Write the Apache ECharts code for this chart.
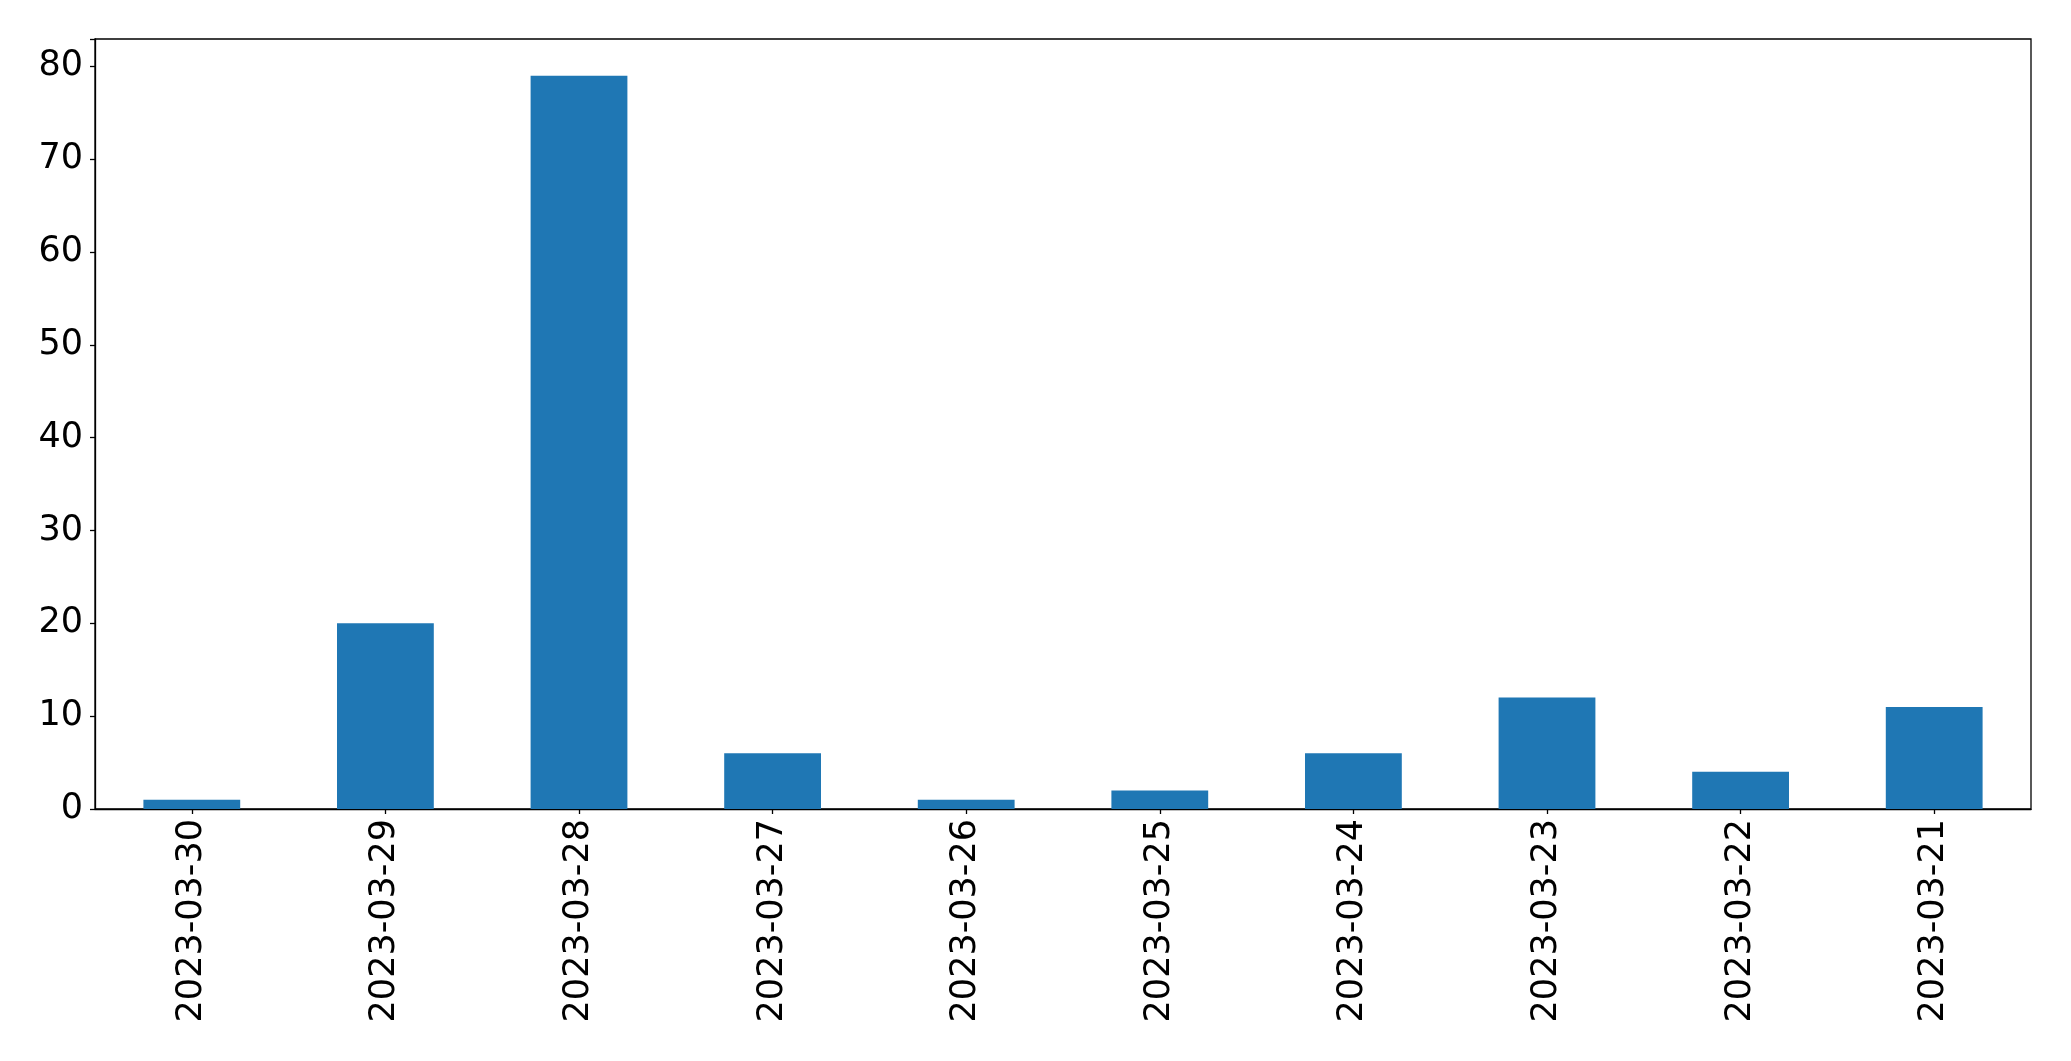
<!DOCTYPE html>
<html>
<head>
<meta charset="utf-8">
<script src="https://cdn.jsdelivr.net/npm/echarts@6/dist/echarts.min.js"></script>
<style>html,body{margin:0;padding:0;background:#fff;}#chart{width:2071px;height:1061px;}</style>
</head>
<body>
<div id="chart"></div>
<script>
const categories = ['2023-03-30','2023-03-29','2023-03-28','2023-03-27','2023-03-26','2023-03-25','2023-03-24','2023-03-23','2023-03-22','2023-03-21'];
const values = [1, 20, 79, 6, 1, 2, 6, 12, 4, 11];
const yTicks = [0, 10, 20, 30, 40, 50, 60, 70, 80];

const chart = echarts.init(document.getElementById('chart'), null, {renderer: 'canvas'});
chart.setOption({
  animation: false,
  backgroundColor: '#ffffff',
  grid: {left: 95, right: 40, top: 39, bottom: 252, show: true, borderColor: '#000', borderWidth: 1.3, containLabel: false},
  xAxis: {
    type: 'category',
    data: categories,
    boundaryGap: true,
    axisLine: {show: true, lineStyle: {color: '#000', width: 1.3}},
    axisTick: {show: true, alignWithLabel: true, length: 5, lineStyle: {color: '#000', width: 1.3}},
    axisLabel: {rotate: 90, margin: 10, fontSize: 35, color: '#000', fontFamily: 'DejaVu Sans', interval: 0},
    splitLine: {show: false}
  },
  yAxis: {
    type: 'value',
    min: 0,
    max: 82.95,
    interval: 10,
    axisLine: {show: true, lineStyle: {color: '#000', width: 1.3}},
    axisTick: {show: true, length: 5, lineStyle: {color: '#000', width: 1.3}},
    axisLabel: {margin: 12, fontSize: 35, color: '#000', fontFamily: 'DejaVu Sans',
      formatter: v => yTicks.includes(v) ? String(v) : ''},
    splitLine: {show: false}
  },
  series: [{
    type: 'bar',
    data: values,
    barWidth: '50%',
    itemStyle: {color: '#1f77b4'}
  }]
});
</script>
</body>
</html>
